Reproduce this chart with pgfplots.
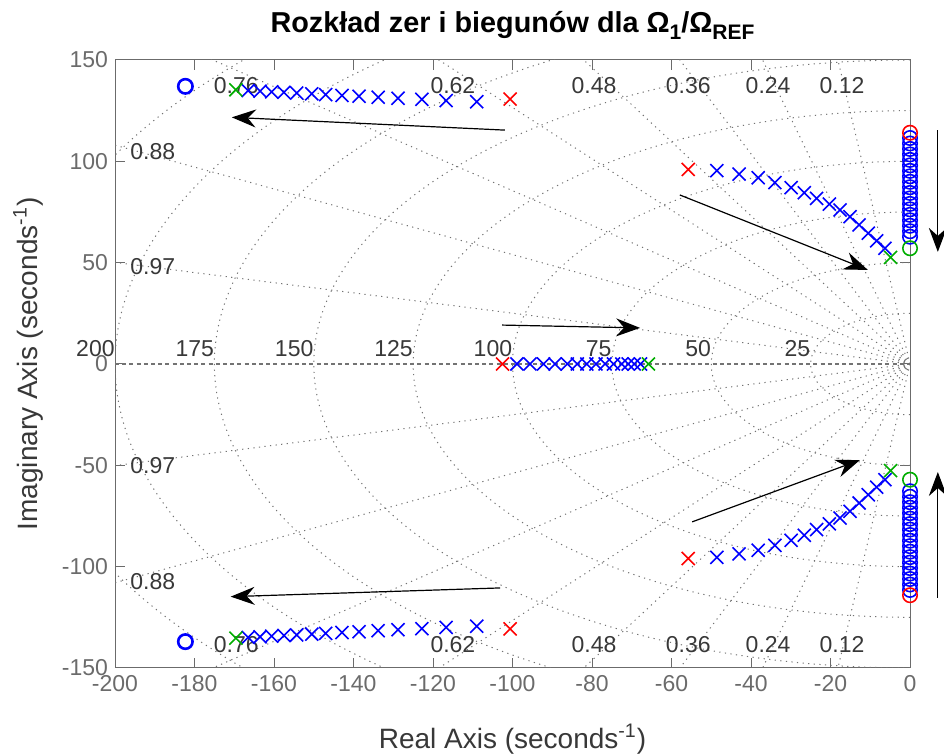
\documentclass[border=0pt]{standalone}
\usepackage{fontspec}
\setmainfont{Liberation Sans}
\usepackage{pgfplots}
\pgfplotsset{compat=1.18}
\usetikzlibrary{arrows.meta}
\definecolor{mgreen}{rgb}{0,0.68,0}
\definecolor{tickgray}{rgb}{0.42,0.42,0.42}
\definecolor{labgray}{rgb}{0.22,0.22,0.22}
\definecolor{gridgray}{rgb}{0.45,0.45,0.45}
\newcommand{\tsub}[1]{\raisebox{-3.2pt}{\fontsize{10.5}{12}\selectfont #1}}
\begin{document}
\begin{tikzpicture}
\begin{axis}[
  scale only axis, width=397.5pt, height=304pt,
  xmin=-200, xmax=0, ymin=-150, ymax=150,
  xtick={-200,-180,-160,-140,-120,-100,-80,-60,-40,-20,0},
  ytick={-150,-100,-50,0,50,100,150},
  tick align=inside, major tick length=5pt,
  axis line style={tickgray, line width=0.5pt},
  tick style={tickgray, line width=0.5pt},
  ticklabel style={text=tickgray, font=\fontsize{11.5}{13}\selectfont},
  /pgf/number format/assume math mode=true,
  clip mode=individual,
  xlabel={Real Axis (seconds\textsuperscript{-1})},
  ylabel={Imaginary Axis (seconds\textsuperscript{-1})},
  xlabel style={at={(axis description cs:0.5,-0.1316)}, anchor=base, font=\fontsize{14}{16}\selectfont, text=labgray},
  ylabel style={at={(axis description cs:-0.0981,0.5)}, anchor=base, rotate=0, font=\fontsize{14}{16}\selectfont, text=labgray},
  gridline/.style={gridgray, line width=0.5pt, dash pattern=on 0.6pt off 2.2pt},
  xmark/.style={only marks, mark=x, mark size=4.6pt, line width=0.8pt},
  omark/.style={only marks, mark=o, mark size=3.6pt, line width=0.8pt},
]
% --- s-plane grid: natural frequency circles
\pgfplotsinvokeforeach{25,50,75,100,125,150,175,200,225,250}{
  \addplot[gridline, domain=-90:90, samples=181, variable=\t] ({-#1*cos(t)},{#1*sin(t)});
}
% --- s-plane grid: damping lines
\pgfplotsinvokeforeach{0.12,0.24,0.36,0.48,0.62,0.76,0.88,0.97}{
  \addplot[gridline, domain=0:320, samples=2] ({-#1*x},{sqrt(1-#1*#1)*x});
  \addplot[gridline, domain=0:320, samples=2] ({-#1*x},{-sqrt(1-#1*#1)*x});
}
% real axis
\addplot[gridgray, line width=0.6pt, dash pattern=on 2pt off 1.6pt] coordinates {(-200,0) (0,0)};
% grid labels
\begin{scope}[every node/.style={text=labgray, font=\fontsize{11.5}{13}\selectfont, inner sep=0pt}]
\node[anchor=base east] at (axis cs:-200,3.5) {200};
\node[anchor=base east] at (axis cs:-175,3.5) {175};
\node[anchor=base east] at (axis cs:-150,3.5) {150};
\node[anchor=base east] at (axis cs:-125,3.5) {125};
\node[anchor=base east] at (axis cs:-100,3.5) {100};
\node[anchor=base east] at (axis cs:-75,3.5) {75};
\node[anchor=base east] at (axis cs:-50,3.5) {50};
\node[anchor=base east] at (axis cs:-25,3.5) {25};
\node at (axis cs:-169.5,137.5) {0.76};
\node at (axis cs:-115,137.5) {0.62};
\node at (axis cs:-79.5,137.5) {0.48};
\node at (axis cs:-55.8,137.5) {0.36};
\node at (axis cs:-35.7,137.5) {0.24};
\node at (axis cs:-17.1,137.5) {0.12};
\node at (axis cs:-169.5,-138.5) {0.76};
\node at (axis cs:-115,-138.5) {0.62};
\node at (axis cs:-79.5,-138.5) {0.48};
\node at (axis cs:-55.8,-138.5) {0.36};
\node at (axis cs:-35.7,-138.5) {0.24};
\node at (axis cs:-17.1,-138.5) {0.12};
\node at (axis cs:-190.5,104.6) {0.88};
\node at (axis cs:-190.5,48.3) {0.97};
\node at (axis cs:-190.5,-50.3) {0.97};
\node at (axis cs:-190.5,-107.5) {0.88};
\end{scope}
% title
\node[anchor=base, inner sep=0pt, font=\fontsize{14.4}{16}\selectfont\bfseries] at ([yshift=13.5pt]axis description cs:0.5,1) {Rozkład zer i biegunów dla Ω\tsub{1}/Ω\tsub{REF}};
% --- poles (left branches)
\addplot[xmark, blue] coordinates {
(-109.0,129.4) (-116.7,130.0) (-122.8,130.6) (-128.8,131.1) (-133.8,131.6) (-138.6,132.1) (-142.9,132.5) (-147.0,132.9) (-150.5,133.3) (-154.3,133.7) (-157.5,134.0) (-160.6,134.3) (-163.5,134.6) (-166.5,134.9)
(-109.0,-129.4) (-116.7,-130.0) (-122.8,-130.6) (-128.8,-131.1) (-133.8,-131.6) (-138.6,-132.1) (-142.9,-132.5) (-147.0,-132.9) (-150.5,-133.3) (-154.3,-133.7) (-157.5,-134.0) (-160.6,-134.3) (-163.5,-134.6) (-166.5,-134.9)
};
% --- poles (right branches)
\addplot[xmark, blue] coordinates {
(-48.6,95.4) (-43.0,93.7) (-38.2,91.9) (-34.0,89.5) (-29.9,87.0) (-26.6,84.5) (-23.5,81.7) (-20.3,78.9) (-17.6,76.0) (-15.1,72.7) (-12.8,68.6) (-10.5,64.5) (-8.4,60.8) (-6.3,57.1)
(-48.6,-95.4) (-43.0,-93.7) (-38.2,-91.9) (-34.0,-89.5) (-29.9,-87.0) (-26.6,-84.5) (-23.5,-81.7) (-20.3,-78.9) (-17.6,-76.0) (-15.1,-72.7) (-12.8,-68.6) (-10.5,-64.5) (-8.4,-60.8) (-6.3,-57.1)
};
% --- poles (real axis)
\addplot[xmark, blue] coordinates {
(-98.9,0) (-95.6,0) (-92.2,0) (-89.3,0) (-86.2,0) (-83.7,0) (-81.3,0) (-79.0,0) (-76.7,0) (-74.6,0) (-72.5,0) (-70.9,0) (-69.4,0) (-67.8,0)
};
% --- zeros on imaginary axis
\addplot[omark, blue] coordinates {
(0,111.5) (0,108.8) (0,106.1) (0,103.4) (0,100.7) (0,98.0) (0,95.3) (0,92.6) (0,89.9) (0,87.2) (0,84.4) (0,81.7) (0,79.0) (0,76.3) (0,73.6) (0,70.9) (0,68.2) (0,65.5) (0,62.8)
(0,-111.5) (0,-108.8) (0,-106.1) (0,-103.4) (0,-100.7) (0,-98.0) (0,-95.3) (0,-92.6) (0,-89.9) (0,-87.2) (0,-84.4) (0,-81.7) (0,-79.0) (0,-76.3) (0,-73.6) (0,-70.9) (0,-68.2) (0,-65.5) (0,-62.8)
};
\addplot[omark, blue, line width=1.3pt] coordinates {(-182.3,137.0) (-182.3,-137.0)};
% --- start (red) and end (green) points
\addplot[xmark, red] coordinates {(-100.6,130.7) (-100.6,-130.7) (-55.8,96.0) (-55.8,-96.0) (-102.5,0)};
\addplot[xmark, mgreen] coordinates {(-169.6,135.3) (-169.6,-135.3) (-4.9,52.6) (-4.9,-52.6) (-65.8,0)};
\addplot[omark, red] coordinates {(0,114.1) (0,-114.1)};
\addplot[omark, mgreen] coordinates {(0,57.1) (0,-57.1)};
% arrow end points
\coordinate (a1t) at (axis cs:-101.9,115.4); \coordinate (a1h) at (axis cs:-170.6,121.7);
\coordinate (a2t) at (axis cs:-103.1,-110.5); \coordinate (a2h) at (axis cs:-170.9,-114.8);
\coordinate (a3t) at (axis cs:-57.9,83.4); \coordinate (a3h) at (axis cs:-10.6,46.4);
\coordinate (a4t) at (axis cs:-54.8,-77.9); \coordinate (a4h) at (axis cs:-12.6,-47.4);
\coordinate (a5t) at (axis cs:-102.6,19.2); \coordinate (a5h) at (axis cs:-67.9,17.8);
\coordinate (a6t) at (axis cs:7,115.4); \coordinate (a6h) at (axis cs:7,55.3);
\coordinate (a7t) at (axis cs:7,-115.4); \coordinate (a7h) at (axis cs:7,-53.3);
\end{axis}
\begin{scope}[black, line width=0.6pt, -{Stealth[length=12pt, width=9pt, inset=4pt]}]
\draw (a1t) -- (a1h);
\draw (a2t) -- (a2h);
\draw (a3t) -- (a3h);
\draw (a4t) -- (a4h);
\draw (a5t) -- (a5h);
\draw (a6t) -- (a6h);
\draw (a7t) -- (a7h);
\end{scope}
\pgfresetboundingbox
\path[use as bounding box] ([shift={(-57.5pt,-44pt)}]current axis.south west) rectangle ([shift={(17pt,30pt)}]current axis.north east);
\end{tikzpicture}
\end{document}
